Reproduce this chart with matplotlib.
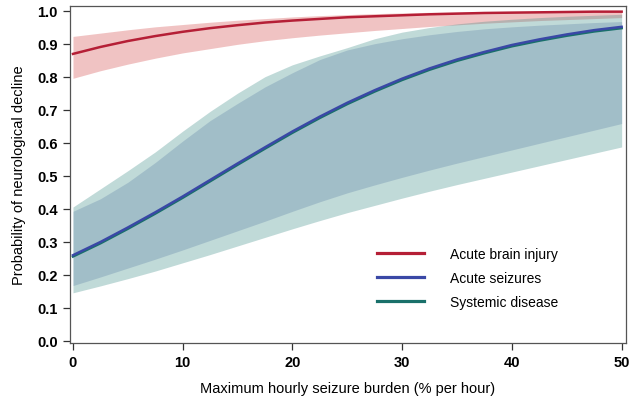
import matplotlib
matplotlib.use("Agg")
import matplotlib.pyplot as plt
from matplotlib.font_manager import FontProperties

# values, every 2.5 % per hour
burden = [0, 2.5, 5, 7.5, 10, 12.5, 15, 17.5, 20, 22.5, 25,
          27.5, 30, 32.5, 35, 37.5, 40, 42.5, 45, 47.5, 50]

brain_mid = [0.869, 0.890, 0.908, 0.923, 0.936, 0.947, 0.956, 0.964, 0.970, 0.975, 0.980,
             0.983, 0.986, 0.989, 0.991, 0.993, 0.994, 0.995, 0.996, 0.997, 0.997]
brain_lo = [0.795, 0.818, 0.838, 0.856, 0.872, 0.885, 0.898, 0.909, 0.918, 0.926, 0.933,
            0.940, 0.946, 0.952, 0.957, 0.962, 0.966, 0.970, 0.973, 0.976, 0.979]
brain_hi = [0.922, 0.932, 0.942, 0.951, 0.958, 0.965, 0.971, 0.976, 0.981, 0.985, 0.988,
            0.991, 0.993, 0.995, 0.996, 0.997, 0.998, 0.998, 0.999, 0.999, 0.999]

seiz_mid = [0.259, 0.299, 0.343, 0.389, 0.437, 0.487, 0.537, 0.586, 0.634, 0.679, 0.721,
            0.759, 0.794, 0.825, 0.852, 0.875, 0.896, 0.913, 0.928, 0.941, 0.951]
seiz_lo = [0.167, 0.193, 0.220, 0.247, 0.275, 0.304, 0.333, 0.362, 0.392, 0.421, 0.448,
           0.472, 0.495, 0.517, 0.538, 0.558, 0.578, 0.598, 0.618, 0.638, 0.658]
seiz_hi = [0.392, 0.430, 0.480, 0.540, 0.605, 0.667, 0.719, 0.769, 0.812, 0.852, 0.881,
           0.900, 0.915, 0.927, 0.937, 0.945, 0.951, 0.956, 0.960, 0.964, 0.967]

sys_mid = [0.255, 0.295, 0.339, 0.385, 0.433, 0.483, 0.533, 0.582, 0.630, 0.675, 0.717,
           0.755, 0.790, 0.821, 0.848, 0.871, 0.892, 0.909, 0.924, 0.937, 0.947]
sys_lo = [0.145, 0.166, 0.188, 0.211, 0.236, 0.261, 0.287, 0.313, 0.339, 0.364, 0.388,
          0.410, 0.432, 0.453, 0.473, 0.492, 0.511, 0.530, 0.549, 0.568, 0.587]
sys_hi = [0.405, 0.460, 0.515, 0.572, 0.635, 0.695, 0.750, 0.800, 0.836, 0.863, 0.888,
          0.915, 0.935, 0.949, 0.960, 0.968, 0.974, 0.979, 0.983, 0.986, 0.989]

labels = ["Acute brain injury", "Acute seizures", "Systemic disease"]

plt.rcParams["font.family"] = ["Liberation Sans", "DejaVu Sans"]

fig = plt.figure(figsize=(6.33, 4.02), dpi=100)
ax = fig.add_axes([0.1106, 0.1443, 0.8784, 0.8390])

ax.fill_between(burden, brain_lo, brain_hi, color=(0.80, 0.16, 0.16), alpha=0.28, lw=0)
ax.fill_between(burden, sys_lo, sys_hi, color=(0.24, 0.55, 0.53), alpha=0.32, lw=0)
ax.fill_between(burden, seiz_lo, seiz_hi, color=(0.16, 0.31, 0.55), alpha=0.20, lw=0)

ax.plot(burden, brain_mid, color="#b51f36", lw=1.8, label=labels[0])
ax.plot(burden, sys_mid, color="#19706a", lw=1.8, label=labels[2], zorder=2.9)
ax.plot(burden, seiz_mid, color="#3a48a6", lw=1.8, label=labels[1], zorder=3)

ax.set_xlim(-0.27, 50.4)
ax.set_ylim(-0.007, 1.015)
ax.set_xticks([0, 10, 20, 30, 40, 50])
ax.set_yticks([i / 10 for i in range(11)])
ax.set_yticklabels([f"{i / 10:.1f}" for i in range(11)])

tick_font = FontProperties(family=["Liberation Sans Narrow", "Liberation Sans", "DejaVu Sans"],
                           weight="bold", size=10.5)
for t in ax.get_xticklabels() + ax.get_yticklabels():
    t.set_fontproperties(tick_font)
ax.tick_params(direction="out", length=5, width=0.9, color="#333333", pad=4)

for s in ax.spines.values():
    s.set_color("#555555")
    s.set_linewidth(0.9)

ax.set_xlabel("Maximum hourly seizure burden (% per hour)", fontsize=10.5, labelpad=8)
ax.set_ylabel("Probability of neurological decline", fontsize=10.5, labelpad=8)

h, l = ax.get_legend_handles_labels()
order = [l.index(x) for x in labels]
leg = ax.legend([h[i] for i in order], [l[i] for i in order],
                loc="upper left", bbox_to_anchor=(0.53, 0.322), frameon=False,
                fontsize=10, handlelength=3.4, handletextpad=1.85, labelspacing=0.73)
for line in leg.get_lines():
    line.set_linewidth(2.3)

fig.savefig("out.png", dpi=100)
